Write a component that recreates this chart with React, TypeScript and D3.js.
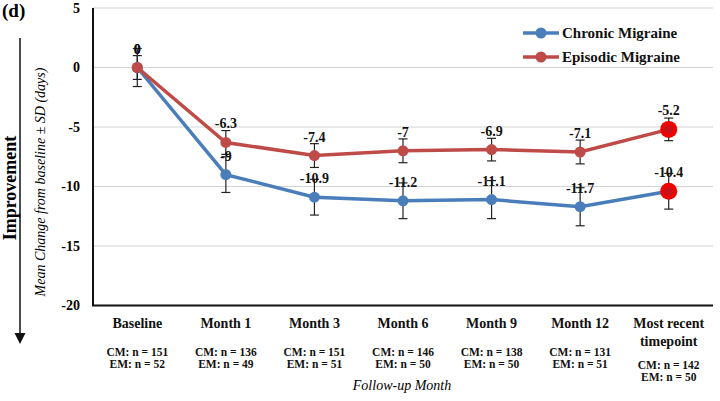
import React from 'react';
import * as d3 from 'd3';

// Follow-up timepoints and the values
const categories = ['Baseline', 'Month 1', 'Month 3', 'Month 6', 'Month 9', 'Month 12', 'Most recent timepoint'];
const cmMean = [0, -9, -10.9, -11.2, -11.1, -11.7, -10.4];
const emMean = [0, -6.3, -7.4, -7, -6.9, -7.1, -5.2];
const cmSD = [1.6, 1.5, 1.5, 1.5, 1.6, 1.6, 1.5];
const emSD = [1.0, 1.0, 1.0, 1.0, 0.95, 1.0, 0.95];
const cmN = [151, 136, 151, 146, 138, 131, 142];
const emN = [52, 49, 51, 50, 50, 51, 50];
const yTicks = [5, 0, -5, -10, -15, -20];

const W = 720;
const H = 401;
const FONT = '"Liberation Serif", "Times New Roman", serif';
const BLUE = '#4a7ebb';
const RED = '#be4b48';

const App: React.FC = () => {
  const x = d3.scalePoint<string>().domain(categories).range([93, 713]).padding(0.5);
  const y = d3.scaleLinear().domain([-20, 5]).range([305.5, 8]);

  const line = d3
    .line<number>()
    .x((_, i) => x(categories[i]) || 0)
    .y((d) => y(d));

  const series = [
    { name: 'Chronic Migraine', mean: cmMean, sd: cmSD, color: BLUE },
    { name: 'Episodic Migraine', mean: emMean, sd: emSD, color: RED },
  ];
  const last = categories.length - 1;

  return (
    <svg width={W} height={H} style={{ position: 'absolute', left: 0, top: 0 }} fontFamily={FONT}>
      <rect width={W} height={H} fill="#fff" />

      {/* gridlines */}
      {yTicks.map((t) => (
        <line key={t} x1={93} x2={713} y1={y(t)} y2={y(t)} stroke="#d4d4d4" strokeWidth={1.2} />
      ))}

      {/* axes */}
      <line x1={93} x2={93} y1={y(5)} y2={y(-20)} stroke="#111" strokeWidth={2} />
      <line x1={92} x2={713} y1={y(-20)} y2={y(-20)} stroke="#111" strokeWidth={2} />

      {yTicks.map((t) => (
        <text key={t} x={80} y={y(t)} dy="0.35em" textAnchor="end" fontSize={14} fontWeight="bold">
          {t}
        </text>
      ))}

      {/* series lines */}
      {series.map((s) => (
        <path key={s.name} d={line(s.mean) || ''} fill="none" stroke={s.color} strokeWidth={3.5} />
      ))}

      {/* error bars */}
      {series.map((s) =>
        s.mean.map((m, i) => {
          const cx = x(categories[i]) || 0;
          const top = y(m + s.sd[i]);
          const bot = y(m - s.sd[i]);
          return (
            <g key={s.name + i} stroke="#222" strokeWidth={1.2}>
              <line x1={cx} x2={cx} y1={top} y2={bot} />
              <line x1={cx - 4.5} x2={cx + 4.5} y1={top} y2={top} />
              <line x1={cx - 4.5} x2={cx + 4.5} y1={bot} y2={bot} />
            </g>
          );
        })
      )}

      {/* markers */}
      {series.map((s) =>
        s.mean.map((m, i) => {
          const cx = x(categories[i]) || 0;
          if (i === last) {
            return (
              <g key={s.name + 'm' + i}>
                <circle cx={cx} cy={y(m)} r={8.5} fill="#f20000" />
                <circle cx={cx} cy={y(m)} r={4.5} fill="#c8101a" />
              </g>
            );
          }
          return <circle key={s.name + 'm' + i} cx={cx} cy={y(m)} r={5.5} fill={s.color} />;
        })
      )}

      {/* data labels */}
      {series.map((s) =>
        s.mean.map((m, i) => (
          <text
            key={s.name + 'l' + i}
            x={x(categories[i]) || 0}
            y={y(m) - 14}
            textAnchor="middle"
            fontSize={14}
            fontWeight="bold"
            fill="#111"
          >
            {m}
          </text>
        ))
      )}

      {/* x labels */}
      {categories.map((c, i) => {
        const cx = x(c) || 0;
        const isLast = i === last;
        const nY = isLast ? 369 : 355.5;
        return (
          <g key={c} fontWeight="bold" textAnchor="middle" fill="#111">
            {isLast ? (
              <>
                <text x={cx} y={328} fontSize={14}>Most recent</text>
                <text x={cx} y={346} fontSize={14}>timepoint</text>
              </>
            ) : (
              <text x={cx} y={328} fontSize={14}>{c}</text>
            )}
            <text x={cx} y={nY} fontSize={11.5}>{`CM: n = ${cmN[i]}`}</text>
            <text x={cx} y={nY + 12} fontSize={11.5}>{`EM: n = ${emN[i]}`}</text>
          </g>
        );
      })}

      <text x={402} y={390} textAnchor="middle" fontSize={14} fontStyle="italic">
        Follow-up Month
      </text>

      {/* y axis title */}
      <text
        transform="translate(45,182) rotate(-90)"
        textAnchor="middle"
        fontSize={14}
        fontStyle="italic"
      >
        Mean Change from baseline ± SD (days)
      </text>

      {/* improvement arrow */}
      <line x1={20} x2={20} y1={38} y2={334} stroke="#111" strokeWidth={1.5} />
      <path d="M14.5,333 L25.5,333 L20,344 Z" fill="#111" />
      <text transform="translate(16,188) rotate(-90)" textAnchor="middle" fontSize={18} fontWeight="bold">
        Improvement
      </text>

      <text x={2} y={17} fontSize={19} fontWeight="bold">(d)</text>

      {/* legend */}
      {series.map((s, i) => {
        const ly = 33 + i * 24;
        return (
          <g key={s.name}>
            <line x1={523} x2={559} y1={ly} y2={ly} stroke={s.color} strokeWidth={3.5} />
            <circle cx={541} cy={ly} r={5.5} fill={s.color} />
            <text x={562} y={ly + 5} fontSize={15} fontWeight="bold" fill="#111">
              {s.name}
            </text>
          </g>
        );
      })}
    </svg>
  );
};

export default App;
